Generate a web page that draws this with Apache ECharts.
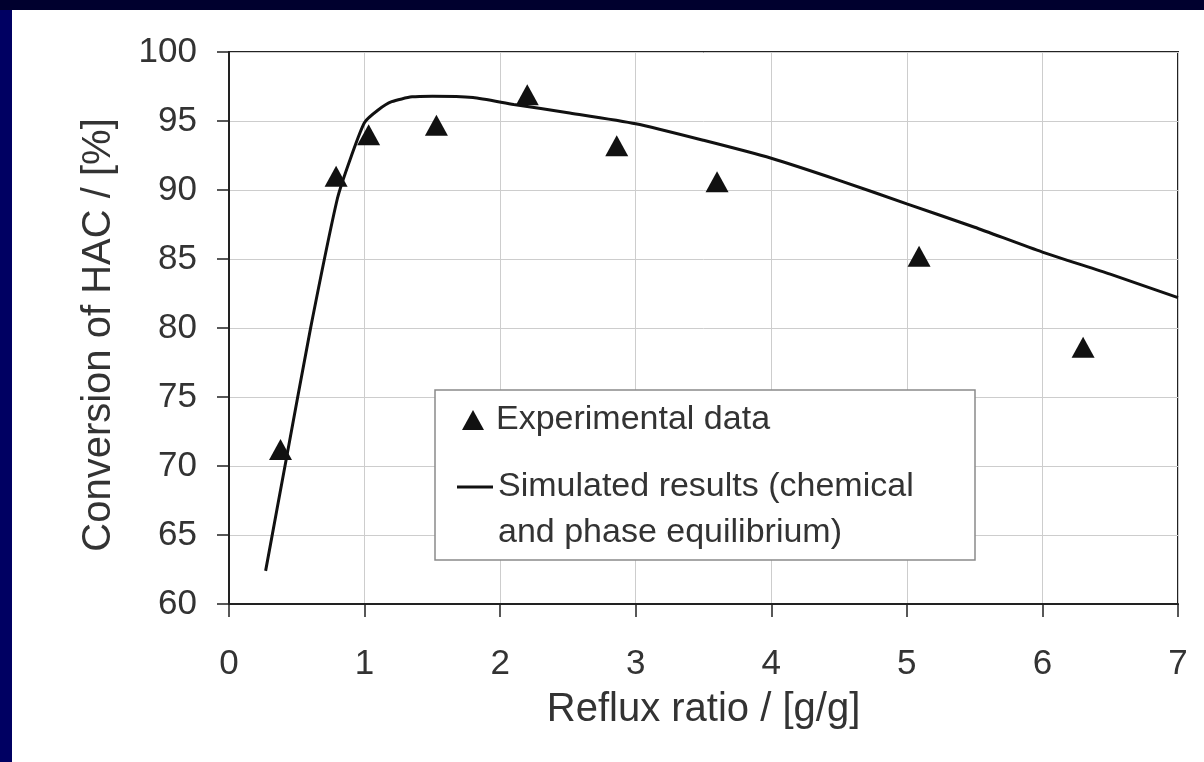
<!DOCTYPE html>
<html>
<head>
<meta charset="utf-8">
<title>Conversion of HAC vs reflux ratio</title>
<script src="https://cdn.jsdelivr.net/npm/echarts@6/dist/echarts.min.js"></script>
<style>
  html, body { margin: 0; padding: 0; background: #fff; }
  #chart { position: absolute; left: 0; top: 0; width: 1204px; height: 762px; }
  .edge-left { position: absolute; left: 0; top: 0; width: 12px; height: 762px; background: #000062; z-index: 5; }
  .edge-top { position: absolute; left: 0; top: 0; width: 1204px; height: 10px; background: #00002e; z-index: 6; }
</style>
</head>
<body>
<div id="chart"></div>
<div class="edge-left"></div>
<div class="edge-top"></div>
<script>
// experimental points (reflux ratio g/g, conversion %)
const expX = [0.38, 0.79, 1.03, 1.53, 2.2, 2.86, 3.6, 5.09, 6.3];
const expY = [71.2, 91.0, 94.0, 94.7, 96.9, 93.2, 90.6, 85.2, 78.6];

// simulated curve
const simX = [0.27, 0.43, 0.6, 0.8, 0.9, 1.0, 1.1, 1.2, 1.35, 1.5, 1.8, 2.1, 2.5, 3.0, 3.5, 4.0, 4.5, 5.0, 5.5, 6.0, 6.5, 7.0];
const simY = [62.4, 70.9, 79.9, 89.4, 92.4, 94.9, 95.8, 96.4, 96.75, 96.8, 96.7, 96.2, 95.6, 94.8, 93.6, 92.3, 90.7, 89.0, 87.3, 85.5, 83.9, 82.2];

const xTicks = [0, 1, 2, 3, 4, 5, 6, 7];
const yTicks = [60, 65, 70, 75, 80, 85, 90, 95, 100];

const expName = "Experimental data";
const simName = "Simulated results (chemical\nand phase equilibrium)";

const FONT = "'Liberation Sans', Arial, sans-serif";
const INK = "#333";

const chart = echarts.init(document.getElementById("chart"));

const option = {
  animation: false,
  backgroundColor: "#fff",
  grid: {
    left: 229,
    top: 52,
    right: 26,
    bottom: 158,
    containLabel: false,
    show: true,
    backgroundColor: "#fff",
    borderColor: "#222",
    borderWidth: 2
  },
  xAxis: {
    type: "value",
    min: xTicks[0],
    max: xTicks[xTicks.length - 1],
    interval: 1,
    name: "Reflux ratio / [g/g]",
    nameLocation: "middle",
    nameGap: 86,
    nameTextStyle: { fontFamily: FONT, fontSize: 40, color: INK },
    axisLine: { show: true, lineStyle: { color: "#222", width: 2 } },
    axisTick: { show: true, inside: false, length: 13, lineStyle: { color: "#222", width: 1.5 } },
    axisLabel: { fontFamily: FONT, fontSize: 35, color: INK, margin: 43 },
    splitLine: { show: true, lineStyle: { color: "#cdcdcd", width: 1 } }
  },
  yAxis: {
    type: "value",
    min: yTicks[0],
    max: yTicks[yTicks.length - 1],
    interval: 5,
    name: "Conversion of HAC / [%]",
    nameLocation: "middle",
    nameGap: 110,
    nameTextStyle: { fontFamily: FONT, fontSize: 40, color: INK, padding: [0, 14, 0, 0] },
    axisLine: { show: true, lineStyle: { color: "#222", width: 2 } },
    axisTick: { show: true, inside: false, length: 12, lineStyle: { color: "#222", width: 1.5 } },
    axisLabel: { fontFamily: FONT, fontSize: 35, color: INK, margin: 32 },
    splitLine: { show: true, lineStyle: { color: "#cdcdcd", width: 1 } }
  },
  graphic: [
    {
      type: "rect",
      z: 50,
      shape: { x: 435, y: 390, width: 540, height: 170 },
      style: { fill: "#fff", stroke: "#8a8a8a", lineWidth: 1.5 }
    }
  ],
  legend: [
    {
      z: 60,
      left: 462,
      top: 403,
      padding: 0,
      orient: "vertical",
      itemWidth: 22,
      itemHeight: 20,
      textStyle: { fontFamily: FONT, fontSize: 34, color: INK, padding: [0, 0, 0, 7] },
      data: [{ name: expName, icon: "triangle", itemStyle: { color: "#111", opacity: 1 } }]
    },
    {
      z: 60,
      left: 457,
      top: 418,
      padding: 0,
      orient: "vertical",
      itemWidth: 36,
      itemHeight: 3,
      formatter: function (name) { return " \n" + name; },
      textStyle: { fontFamily: FONT, fontSize: 34, color: INK, lineHeight: 46 },
      data: [{ name: simName, icon: "rect" }]
    }
  ],
  series: [
    {
      name: simName,
      type: "line",
      data: simX.map((x, i) => [x, simY[i]]),
      smooth: 0.2,
      showSymbol: false,
      symbol: "none",
      lineStyle: { color: "#111", width: 3 },
      itemStyle: { color: "#111" },
      z: 3
    },
    {
      name: expName,
      type: "scatter",
      data: expX.map((x, i) => [x, expY[i]]),
      symbol: "triangle",
      symbolSize: [23, 21],
      itemStyle: { color: "#111", opacity: 1 },
      z: 4
    }
  ]
};

chart.setOption(option);
</script>
</body>
</html>
